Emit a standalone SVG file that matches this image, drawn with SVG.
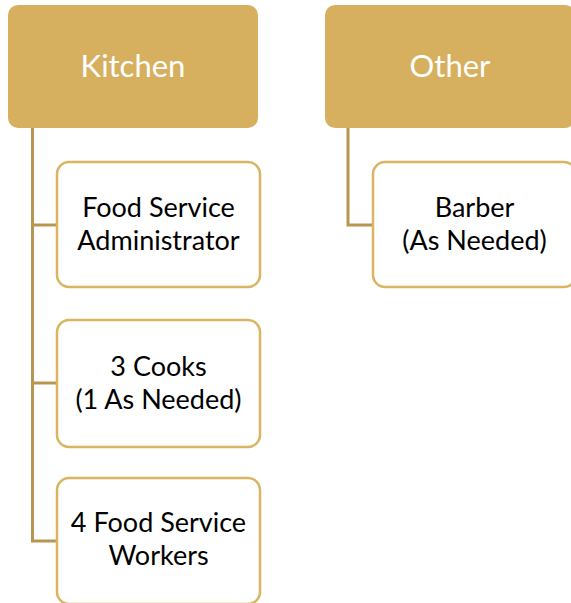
<svg xmlns="http://www.w3.org/2000/svg" width="571" height="603" viewBox="0 0 571 603">
  <style>
    .head { fill: #D6B05E; }
    .head-text { fill: #FFFFFF; font-family: Lato, "Liberation Sans", sans-serif; font-size: 31px; text-anchor: middle; }
    .item { fill: #FFFFFF; stroke: #D9B561; stroke-width: 2.5; }
    .item-text { fill: #000000; font-family: Lato, "Liberation Sans", sans-serif; font-size: 27px; text-anchor: middle; }
    .link { fill: none; stroke: #B8964F; stroke-width: 3; }
  </style>
  <rect width="571" height="603" fill="#FFFFFF"/>

  <!-- connectors -->
  <g id="connectors">
    <path class="link" d="M32.5 128 V541 H57"/>
    <path class="link" d="M32.5 225 H57"/>
    <path class="link" d="M32.5 383 H57"/>
    <path class="link" d="M348 128 V225 H373"/>
  </g>

  <!-- group headers -->
  <g id="kitchen">
    <rect class="head" x="8" y="5" width="250" height="123" rx="10"/>
    <text class="head-text" x="133" y="77">Kitchen</text>
  </g>
  <g id="other">
    <rect class="head" x="325" y="5" width="250" height="123" rx="10"/>
    <text class="head-text" x="450" y="77">Other</text>
  </g>

  <!-- kitchen staff -->
  <g id="food-service-administrator">
    <rect class="item" x="57" y="162" width="203" height="125" rx="12"/>
    <text class="item-text" x="158.5" y="217">Food Service</text>
    <text class="item-text" x="158.5" y="250">Administrator</text>
  </g>
  <g id="cooks">
    <rect class="item" x="57" y="320" width="203" height="127" rx="12"/>
    <text class="item-text" x="158.5" y="376">3 Cooks</text>
    <text class="item-text" x="158.5" y="409">(1 As Needed)</text>
  </g>
  <g id="food-service-workers">
    <rect class="item" x="57" y="478" width="203" height="126" rx="12"/>
    <text class="item-text" x="158.5" y="532">4 Food Service</text>
    <text class="item-text" x="158.5" y="565">Workers</text>
  </g>

  <!-- other staff -->
  <g id="barber">
    <rect class="item" x="373" y="162" width="203" height="125" rx="12"/>
    <text class="item-text" x="474.5" y="217">Barber</text>
    <text class="item-text" x="474.5" y="250">(As Needed)</text>
  </g>
</svg>
